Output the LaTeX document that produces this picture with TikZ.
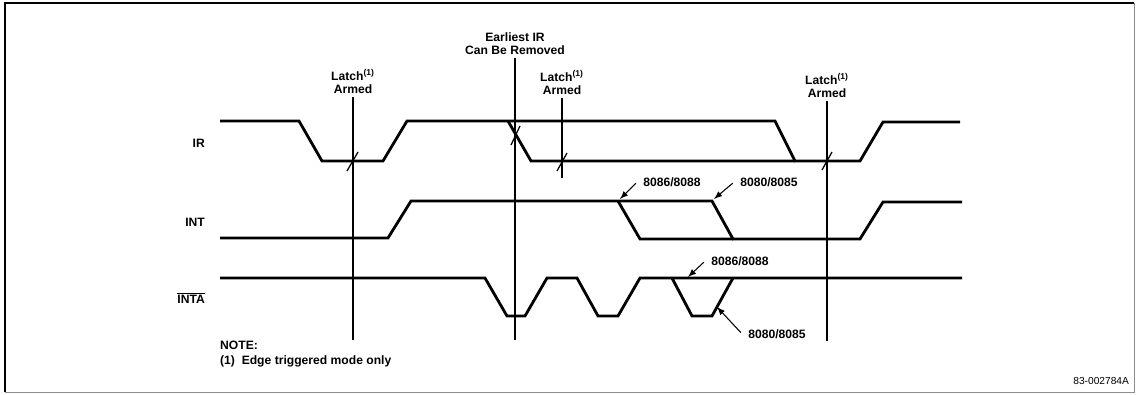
\documentclass[tikz,border=0pt]{standalone}
\usepackage{fontspec}
\setmainfont{Liberation Sans}
\usetikzlibrary{positioning}

\tikzset{
  signal/.style={line width=1.6pt},
  marker/.style={line width=0.8pt},
  tick/.style={line width=0.7pt},
  callout/.style={-latex, line width=0.6pt, shorten <=1pt},
  lbl/.style={align=center, anchor=south, inner sep=1.5pt},
  partno/.style={inner sep=1pt}
}

\begin{document}
\begin{tikzpicture}[x=0.02cm, y=-0.02cm, every node/.style={font=\fontsize{6.9}{7.4}\selectfont\bfseries}]

\useasboundingbox (0,0) rectangle (1137,395);

% Frame
\draw[line width=0.8pt] (5,392) -- (5,3) -- (1134,3);
\draw[line width=0.5pt, black!45] (5,392) -- (1134,392) -- (1134,3);

% Signal names
\node[anchor=east] (ir) at (211,143) {IR};
\node[anchor=east] (int) at (211,222) {INT};
\node[anchor=east] (inta) at (211,298) {$\overline{\mbox{INTA}}$};

% IR
\draw[signal] (220,121) -- (299,121) -- (322,161) -- (383,161) -- (407,121) -- (775,121) -- (795,161) -- (860,161) -- (883,122) -- (960,122);
\draw[signal] (508,121) -- (531,161) -- (795,161);

% INT
\draw[signal] (220,238) -- (388,238) -- (411,201) -- (712,201) -- (733,239) -- (860,239) -- (883,202) -- (962,202);
\draw[signal] (618,201) -- (640,239) -- (733,239);

% INTA
\draw[signal] (220,278) -- (485,278) -- (507,316) -- (525,316) -- (547,278) -- (577,278) -- (598,316) -- (618,316) -- (640,278) -- (962,278);
\draw[signal] (672,278) -- (692,316) -- (712,316) -- (733,278);

% Markers
\node[lbl] (latchA) at (353,97) {Latch\textsuperscript{(1)}\\Armed};
\node[lbl] (earliest) at (515,58) {Earliest IR\\Can Be Removed};
\node[lbl] (latchB) at (562,98) {Latch\textsuperscript{(1)}\\Armed};
\node[lbl] (latchC) at (827,101) {Latch\textsuperscript{(1)}\\Armed};

\coordinate (latchAend) at (353,340);
\coordinate (earliestend) at (515,340);
\coordinate (latchBend) at (562,178);
\coordinate (latchCend) at (827,341);

\draw[marker] (latchA) -- (latchAend);
\draw[marker] (earliest) -- (earliestend);
\draw[marker] (latchB) -- (latchBend);
\draw[marker] (latchC) -- (latchCend);

% Latch ticks
\draw[tick] (347,171) -- (358,152);
\draw[tick] (511,145) -- (520,126);
\draw[tick] (557,171) -- (567,153);
\draw[tick] (822,170) -- (832,152);

% Processor callouts
\node (int86) at (672,182) {8086/8088};
\node (int80) at (769,182) {8080/8085};
\node (inta86) at (740,261) {8086/8088};
\node (inta80) at (777,334) {8080/8085};

\coordinate (int86pt) at (620,199);
\coordinate (int80pt) at (714,199);
\coordinate (inta86pt) at (688,277);
\coordinate (inta80pt) at (717,307);

\draw[callout] (int86.west) -- (int86pt);
\draw[callout] (int80.west) -- (int80pt);
\draw[callout] (inta86.west) -- (inta86pt);
\draw[callout] (inta80.west) -- (inta80pt);

% Note
\node[anchor=west, align=left] (note) at (214,354) {NOTE:\\[1.2pt](1)\ \ Edge triggered mode only};

% Part number
\node[anchor=east, partno, font=\fontsize{5.8}{6}\selectfont] (figid) at (1131,381) {83-002784A};

\end{tikzpicture}
\end{document}
